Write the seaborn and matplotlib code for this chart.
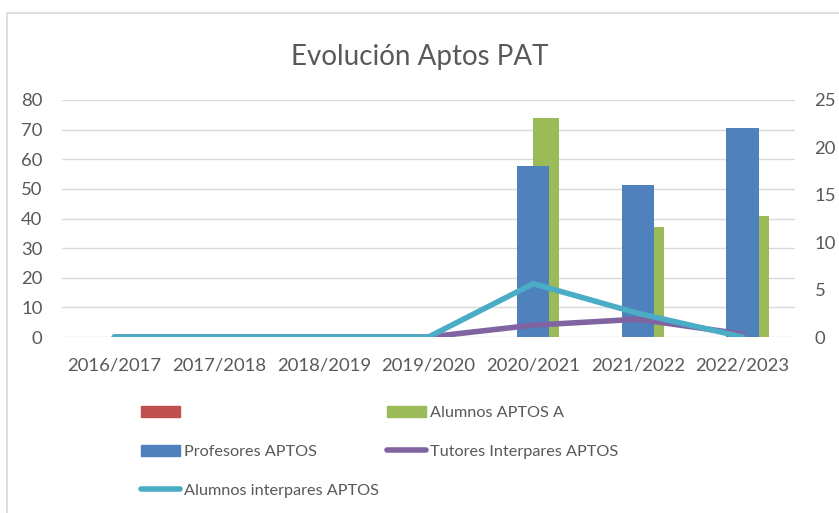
import numpy as np
import pandas as pd
import matplotlib
matplotlib.use("Agg")
import matplotlib.pyplot as plt
from matplotlib.patches import Patch
from matplotlib.lines import Line2D
import seaborn as sns

# datos
cursos = ['2016/2017', '2017/2018', '2018/2019', '2019/2020', '2020/2021', '2021/2022', '2022/2023']
serie_vacia = [0, 0, 0, 0, 0, 0, 0]
alumnos_aptos_a = [0, 0, 0, 0, 74, 37, 41]
profesores_aptos = [0, 0, 0, 0, 18, 16, 22]          # eje secundario
tutores_interpares = [0, 0, 0, 0, 4, 6, 1]
alumnos_interpares = [0, 0, 0, 0, 18, 8, 0]

ROJO, VERDE, AZUL, MORADO, CIAN = '#C0504D', '#9BBB59', '#4F81BD', '#8064A2', '#4BACC6'
GRIS = '#595959'

sns.set_style("white")
plt.rcParams['font.family'] = ['Lato', 'DejaVu Sans']

fig = plt.figure(figsize=(8.39, 5.13), dpi=100)
ax = fig.add_axes([62 / 839, 1 - 337 / 513, 733 / 839, 237 / 513])

# barras del eje principal (serie vacia + alumnos)
df_p = pd.DataFrame({
    'curso': cursos * 2,
    'valor': serie_vacia + alumnos_aptos_a,
    'serie': ['vacia'] * 7 + ['Alumnos APTOS A'] * 7,
})
sns.barplot(data=df_p, x='curso', y='valor', hue='serie', order=cursos,
            palette=[ROJO, VERDE], width=0.5, ax=ax, legend=False,
            saturation=1, linewidth=0)

# barras del eje secundario
ax2 = ax.twinx()
df_s = pd.DataFrame({'curso': cursos, 'valor': profesores_aptos})
sns.barplot(data=df_s, x='curso', y='valor', order=cursos, color=AZUL,
            width=0.31, ax=ax2, saturation=1, linewidth=0)

# lineas (escala principal) por encima de todo
ax3 = ax.twinx()
pos = np.arange(len(cursos))
sns.lineplot(x=pos, y=tutores_interpares, color=MORADO, lw=4, ax=ax3)
sns.lineplot(x=pos, y=alumnos_interpares, color=CIAN, lw=4, ax=ax3)

for a in (ax, ax2, ax3):
    a.set_xlim(-0.5, 6.5)
    a.set_xlabel('')
    a.set_ylabel('')
    for s in a.spines.values():
        s.set_visible(False)
    a.tick_params(length=0, colors=GRIS, labelsize=13.3)

ax.set_ylim(0, 80)
ax.set_yticks(range(0, 81, 10))
ax2.set_ylim(0, 25)
ax2.set_yticks(range(0, 26, 5))
ax3.set_ylim(0, 80)
ax3.set_yticks([])
ax.set_xticks(pos)
ax.set_xticklabels(cursos)
ax.tick_params(axis='x', pad=15)
ax.tick_params(axis='y', pad=14)
ax2.tick_params(axis='y', pad=14)
ax.yaxis.grid(True, color='#D9D9D9', lw=1)
ax.set_axisbelow(True)

fig.text(0.5, 1 - 57 / 513, 'Evolución Aptos PAT', ha='center', va='center',
         fontsize=20, color=GRIS)

handles = [Patch(color=ROJO), Patch(color=AZUL), Line2D([], [], color=CIAN, lw=4),
           Patch(color=VERDE), Line2D([], [], color=MORADO, lw=4)]
labels = ['', 'Profesores APTOS', 'Alumnos interpares APTOS',
          'Alumnos APTOS A', 'Tutores Interpares APTOS']
leg = fig.legend(handles, labels, ncol=2, loc='upper left',
                 bbox_to_anchor=(141 / 839, 1 - 406 / 513), frameon=False,
                 fontsize=11.7, handlelength=2.4, handleheight=0.7,
                 handletextpad=0.25, columnspacing=0.5, labelspacing=1.5,
                 borderpad=0, borderaxespad=0)
for t in leg.get_texts():
    t.set_color(GRIS)

# borde del area del grafico
fig.add_artist(Line2D([7 / 839, 7 / 839], [0, 1 - 13 / 513], color='#D9D9D9', lw=1.2))
fig.add_artist(Line2D([7 / 839, 1], [1 - 13 / 513, 1 - 13 / 513], color='#D9D9D9', lw=1.2))

fig.savefig('out.png', dpi=100)
